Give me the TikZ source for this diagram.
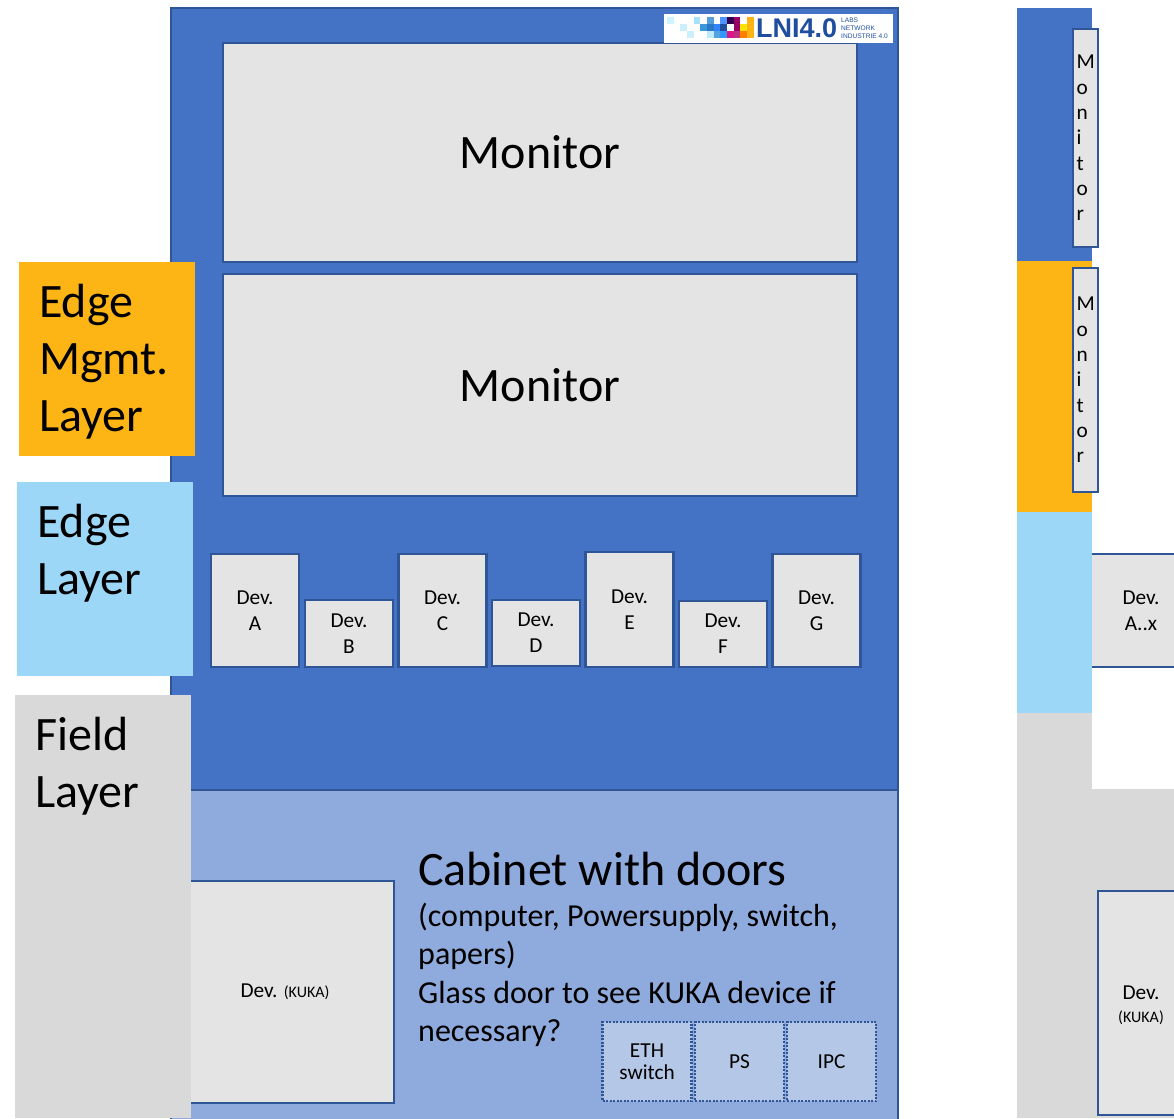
\documentclass[tikz,border=0pt]{standalone}
\usepackage{fontspec}
\setmainfont{Carlito}
\newfontfamily\logofont{Liberation Sans}
\usepackage{xcolor}
\definecolor{rackblue}{HTML}{4472C4}
\definecolor{rackedge}{HTML}{2F5597}
\definecolor{cabblue}{HTML}{8FAADC}
\definecolor{partblue}{HTML}{B4C7E7}
\definecolor{boxgrey}{HTML}{E4E4E4}
\definecolor{mgmtorange}{HTML}{FDB515}
\definecolor{edgeblue}{HTML}{9DD7F7}
\definecolor{fieldgrey}{HTML}{D9D9D9}
\definecolor{logoblue}{HTML}{1F4E9E}
\newcommand{\fs}[1]{\fontsize{#1}{#1}\selectfont}
\tikzset{
box/.style={
 draw=rackedge,
 line width=2.6pt,
 fill=boxgrey,
 align=center,
 inner sep=0pt,
 text=black
 },
dev/.style={
 box,
 minimum width=88pt,
 font=\fontsize{21.3}{26}\selectfont
 },
part/.style={
 draw=rackedge,
 line width=2.6pt,
 dash pattern=on 2pt off 1.5pt,
 fill=partblue,
 minimum width=89pt,
 minimum height=79pt,
 align=center,
 font=\fontsize{21.3}{21.5}\selectfont
 },
vmon/.style={
 box,
 minimum width=25pt,
 minimum height=220pt,
 font=\fontsize{21.3}{25.3}\selectfont,
 align=left,
 text width=18pt
 },
layer/.style={
 minimum width=176pt,
 inner sep=0pt
 },
layertext/.style={
 anchor=north west,
 inner sep=0pt,
 align=left,
 font=\fontsize{48}{57.2}\selectfont
 },
strip/.style={
 minimum width=75pt,
 inner sep=0pt
 }
}
\begin{document}
\begin{tikzpicture}[x=1pt,y=-1pt]
\clip (0,0) rectangle (1174,1118);
\fill[white] (0,0) rectangle (1174,1118);
% front view
\node[draw=rackedge,line width=2.8pt,fill=rackblue,minimum width=727pt,minimum height=782pt,inner sep=0pt] (rack) at (534.5,399) {};
\node[draw=rackedge,line width=2.8pt,fill=cabblue,minimum width=727pt,minimum height=332pt,inner sep=0pt] (cabinet) at (534.5,956) {};
\node[box,minimum width=634pt,minimum height=219pt,font=\fs{48}] (monA) at (540,152.5) {\raisebox{-1pt}{Monitor}};
\node[box,minimum width=634pt,minimum height=222pt,font=\fs{48}] (monB) at (540,385) {\raisebox{-1pt}{Monitor}};
\node[dev,minimum height=113pt] (devA) at (255,610.5) {Dev.\\A};
\node[dev,minimum height=67pt] (devB) at (349,633.5) {Dev.\\B};
\node[dev,minimum height=113pt] (devC) at (442.5,610.5) {Dev.\\C};
\node[dev,minimum height=66pt] (devD) at (536,633) {Dev.\\D};
\node[dev,minimum height=115pt] (devE) at (629.5,609.5) {Dev.\\E};
\node[dev,minimum height=66pt] (devF) at (723,634) {Dev.\\F};
\node[dev,minimum height=113pt] (devG) at (816.5,610.5) {Dev.\\G};
\node[box,minimum width=218pt,minimum height=222pt,font=\fs{21.3}] (devK) at (285,992) {\raisebox{-2pt}{Dev. {\fs{16}(KUKA)}}};
% cabinet
\node[anchor=west,inner sep=0pt,font=\fs{48}] (cabtitle) at (418,869) {Cabinet with doors};
\node[anchor=north west,inner sep=0pt,align=left,font=\fontsize{32}{38.3}\selectfont] (cabtext) at (418,903) {(computer, Powersupply, switch,\\papers)\\Glass door to see KUKA device if\\necessary?};
\node[part] (eth) at (647,1061.5) {ETH\\switch};
\node[part] (ps) at (739.5,1061.5) {PS};
\node[part] (ipc) at (831.5,1061.5) {IPC};
% layers
\node[layer,fill=mgmtorange,minimum height=194pt] (mgmt) at (107,359) {};
\node[layertext] (mgmttext) at (39,284) {Edge\\Mgmt.\\Layer};
\node[layer,fill=edgeblue,minimum height=194pt] (edge) at (105,579) {};
\node[layertext] (edgetext) at (37,504) {Edge\\Layer};
\node[layer,fill=fieldgrey,minimum height=423pt] (field) at (103,906.5) {};
\node[layertext] (fieldtext) at (35,717) {Field\\Layer};
% logo
\node[fill=white,minimum width=229pt,minimum height=29pt,inner sep=0pt] (logo) at (778.5,28.5) {};
\foreach \c/\r/\col in {0/0/blue!20!cyan!20,4/0/cyan!35,6/0/cyan!65!blue!70,8/0/blue!60!cyan!70,9/0/blue!60!red!50!black,10/0/violet!80!red,12/0/mgmtorange,
 2/1/cyan!20,5/1/cyan!70!blue!80,6/1/cyan!50!blue!90,7/1/blue!60!cyan!80,8/1/logoblue,9/1/white,10/1/violet!80!red,11/1/yellow!85!orange,12/1/mgmtorange,
 3/2/cyan!20,6/2/cyan!25,7/2/cyan!70!blue!70,8/2/blue!50!cyan!80,9/2/magenta!90!black,10/2/magenta!50!violet,11/2/orange,12/2/mgmtorange}
 \fill[\col] (667+6.67*\c,17.5+6.67*\r) rectangle ++(6.67,6.67);
\node[anchor=west,inner sep=0pt,text=logoblue,font=\logofont\bfseries\fontsize{27}{27}\selectfont] (lni) at (756,28) {LNI4.0};
\node[anchor=west,inner sep=0pt,text=logoblue,align=left,font=\logofont\fontsize{6.6}{8.2}\selectfont] (labs) at (841,28.5) {LABS\\NETWORK\\INDUSTRIE 4.0};
% side view
\node[box,minimum width=100pt,minimum height=113pt] (devX) at (1141,610.5) {};
\node[inner sep=0pt,align=center,font=\fontsize{21.3}{26}\selectfont] (devXtext) at (1141,610.5) {Dev.\\A..x};
\node[strip,fill=rackblue,minimum height=253pt] (sideblue) at (1054.5,134.5) {};
\node[strip,fill=mgmtorange,minimum height=251pt] (sideorange) at (1054.5,386.5) {};
\node[strip,fill=edgeblue,minimum height=201pt] (sideedge) at (1054.5,612.5) {};
\node[strip,fill=fieldgrey,minimum height=405pt] (sidefield) at (1054.5,915.5) {};
\node[fill=fieldgrey,minimum width=82pt,minimum height=329pt,inner sep=0pt] (sidecab) at (1133,953.5) {};
\node[box,minimum width=86pt,minimum height=224pt] (devY) at (1141,1003) {};
\node[inner sep=0pt,align=center,font=\fontsize{21.3}{23}\selectfont] (devYtext) at (1141,1005.5) {Dev.\\{\fs{16}(KUKA)}};
\node[vmon,minimum height=218pt] (sideA) at (1085.5,138) {M\\o\\n\\i\\t\\o\\r};
\node[vmon,minimum height=224pt] (sideB) at (1085.5,380) {M\\o\\n\\i\\t\\o\\r};
\end{tikzpicture}
\end{document}
